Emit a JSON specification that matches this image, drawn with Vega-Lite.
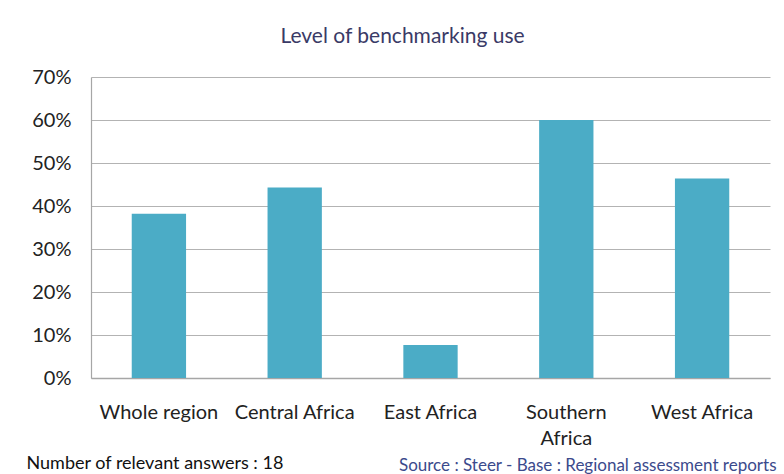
{
  "$schema": "https://vega.github.io/schema/vega-lite/v6.json",
  "autosize": {"type": "none"},
  "width": 679,
  "height": 301,
  "padding": {"left": 91, "top": 77, "right": 14, "bottom": 96},
  "background": "white",
  "title": {
    "text": "Level of benchmarking use",
    "font": "Lato",
    "fontSize": 21,
    "fontWeight": "normal",
    "color": "#3a3a66",
    "anchor": "middle",
    "frame": "group",
    "dx": -28,
    "offset": 20
  },
  "data": {
    "values": [
      {"region": "Whole region", "share": 0.382},
      {"region": "Central Africa", "share": 0.443},
      {"region": "East Africa", "share": 0.077},
      {"region": "Southern Africa", "share": 0.6},
      {"region": "West Africa", "share": 0.464}
    ]
  },
  "mark": {"type": "bar", "color": "#4BACC6"},
  "encoding": {
    "x": {
      "field": "region",
      "type": "nominal",
      "sort": null,
      "scale": {"paddingInner": 0.6, "paddingOuter": 0.3},
      "axis": {
        "title": "Number of relevant answers : 18",
        "titleFont": "Lato",
        "titleFontSize": 18,
        "titleFontWeight": "normal",
        "titleColor": "#111111",
        "titleAnchor": "start",
        "titleAlign": "left",
        "titleX": -65,
        "titleY": 90,
        "titleBaseline": "alphabetic",
        "labelAngle": 0,
        "labelFont": "Lato",
        "labelFontSize": 20,
        "labelColor": "#222222",
        "labelPadding": 24,
        "labelLineHeight": 26,
        "labelExpr": "datum.label == 'Southern Africa' ? ['Southern', 'Africa'] : datum.label",
        "ticks": false,
        "domainColor": "#a6a6a6",
        "domainWidth": 1.5
      }
    },
    "y": {
      "field": "share",
      "type": "quantitative",
      "scale": {"domain": [0, 0.7], "nice": false},
      "axis": {
        "values": [0, 0.1, 0.2, 0.3, 0.4, 0.5, 0.6, 0.7],
        "format": ".0%",
        "title": "Source : Steer - Base : Regional assessment reports",
        "titleFont": "Lato",
        "titleFontSize": 17,
        "titleFontWeight": "normal",
        "titleColor": "#3b4a8c",
        "titleAngle": 0,
        "titleAlign": "right",
        "titleBaseline": "alphabetic",
        "titleX": 685,
        "titleY": 393,
        "labelFont": "Lato",
        "labelFontSize": 20,
        "labelColor": "#222222",
        "labelPadding": 20,
        "ticks": false,
        "grid": true,
        "gridColor": "#b3b3b3",
        "gridWidth": 1.2,
        "domainColor": "#a6a6a6",
        "domainWidth": 1.2
      }
    }
  },
  "config": {"view": {"stroke": null}}
}
